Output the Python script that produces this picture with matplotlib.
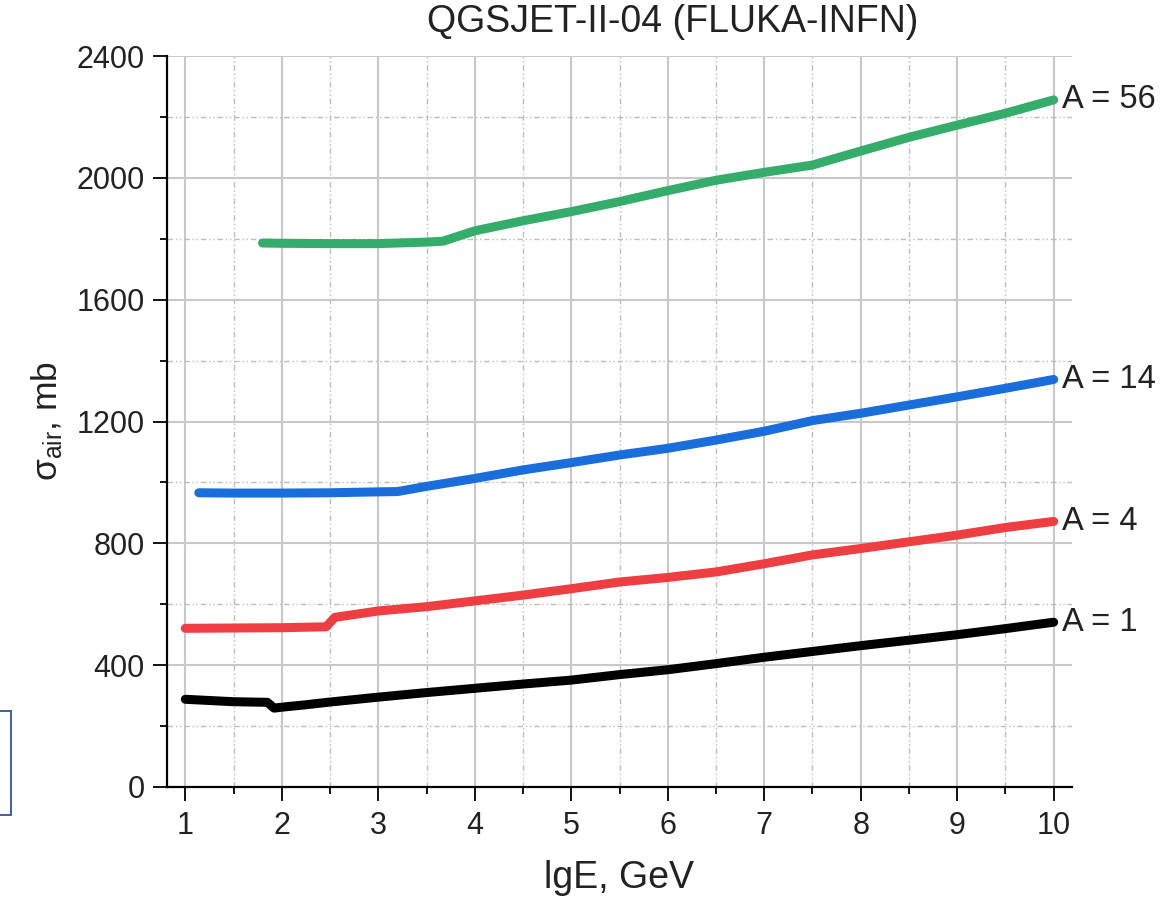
import matplotlib
matplotlib.use('Agg')
import matplotlib.pyplot as plt
from matplotlib.patches import Rectangle
from matplotlib.ticker import MultipleLocator

plt.rcParams['font.family'] = ['Liberation Sans', 'DejaVu Sans']
plt.rcParams['mathtext.default'] = 'regular'

# lgE, GeV  vs  sigma_air, mb
x_a1 = [1.0, 1.25, 1.5, 1.85, 1.92, 2.0, 2.25, 2.5, 2.75, 3.0, 3.5, 4.0, 4.5, 5.0,
        5.5, 6.0, 6.5, 7.0, 7.5, 8.0, 8.5, 9.0, 9.5, 10.0]
y_a1 = [288, 284, 280, 278, 259, 262, 270, 279, 287, 295, 310, 324, 338, 351,
        369, 385, 405, 426, 445, 464, 482, 500, 520, 541]

x_a4 = [1.0, 1.5, 2.0, 2.46, 2.55, 3.0, 3.5, 4.0, 4.5, 5.0, 5.5, 6.0, 6.5, 7.0,
        7.5, 8.0, 8.5, 9.0, 9.5, 10.0]
y_a4 = [521, 522, 523, 526, 557, 578, 592, 611, 630, 651, 673, 688, 706, 733,
        762, 783, 805, 827, 852, 872]

x_a14 = [1.14, 1.5, 2.0, 2.5, 3.0, 3.2, 3.5, 4.0, 4.5, 5.0, 5.5, 6.0, 6.5, 7.0,
         7.5, 8.0, 8.5, 9.0, 9.5, 10.0]
y_a14 = [966, 965, 965, 966, 969, 970, 987, 1013, 1041, 1065, 1090, 1112, 1139, 1168,
         1203, 1227, 1254, 1281, 1309, 1338]

x_a56 = [1.8, 2.0, 2.5, 3.0, 3.5, 3.67, 4.0, 4.5, 5.0, 5.5, 6.0, 6.5, 7.0,
         7.5, 8.0, 8.5, 9.0, 9.5, 10.0]
y_a56 = [1786, 1785, 1784, 1784, 1789, 1792, 1826, 1859, 1889, 1922, 1958, 1992, 2018,
         2042, 2088, 2133, 2173, 2212, 2256]

series = [
    (x_a1, y_a1, '#000000', 'A = 1'),
    (x_a4, y_a4, '#ee3e42', 'A = 4'),
    (x_a14, y_a14, '#1a6edb', 'A = 14'),
    (x_a56, y_a56, '#35ad6a', 'A = 56'),
]

fig = plt.figure(figsize=(11.76, 9), dpi=100)
ax = fig.add_axes([167 / 1176, 113 / 900, 905 / 1176, 731 / 900])

for xs, ys, col, lab in series:
    ax.plot(xs, ys, color=col, lw=6.5, solid_capstyle='round', zorder=3)
    ax.annotate(lab, xy=(xs[-1], ys[-1]), xytext=(6, 0), textcoords='offset points',
                va='center', ha='left', fontsize=23.5, color='#222222',
                annotation_clip=False)

ax.set_xlim(0.81, 10.19)
ax.set_ylim(0, 2400)
ax.xaxis.set_major_locator(MultipleLocator(1))
ax.xaxis.set_minor_locator(MultipleLocator(0.5))
ax.yaxis.set_major_locator(MultipleLocator(400))
ax.yaxis.set_minor_locator(MultipleLocator(200))

ax.grid(which='major', color='#c8c8c8', lw=1.5, ls='-', zorder=0)
ax.grid(which='minor', color='#bdbdbd', lw=1.0, ls=(0, (4, 2, 1, 2, 1, 2)), zorder=0)
ax.set_axisbelow(True)
ax.get_ygridlines()[-1].set_visible(False)

for s in ['top', 'right']:
    ax.spines[s].set_visible(False)
for s in ['left', 'bottom']:
    ax.spines[s].set_linewidth(1.6)

ax.tick_params(which='major', length=10, width=1.3, labelsize=22, colors='#000000',
               labelcolor='#222222')
ax.tick_params(which='minor', length=5, width=1.3)
ax.tick_params(axis='x', pad=7)
ax.tick_params(axis='y', pad=6)

ax.set_xlabel('lgE, GeV', fontsize=27, labelpad=14, color='#222222')
ax.set_ylabel('σ$_{air}$, mb', fontsize=25.5, labelpad=8, color='#222222')
fig.text(673 / 1176, 1 - 22 / 900, 'QGSJET-II-04 (FLUKA-INFN)', ha='center', va='center',
         fontsize=27, color='#222222')

fig.add_artist(Rectangle((-0.01, 1 - 815 / 900), 0.01 + 11 / 1176, 104 / 900,
                         transform=fig.transFigure, fill=False, ec='#2f5496', lw=1.3))

fig.savefig('out.png', dpi=100)
